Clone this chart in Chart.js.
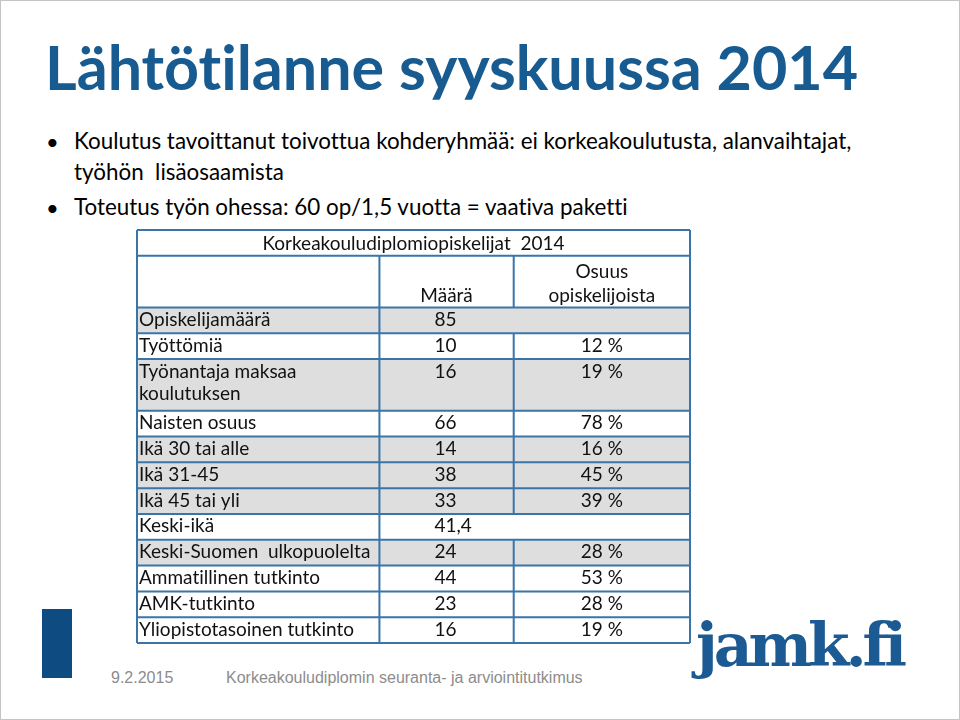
<!DOCTYPE html>
<html><head><meta charset="utf-8">
<script src="https://cdn.jsdelivr.net/npm/chart.js@4"></script>
<style>
html,body{margin:0;padding:0;background:#fff;}
#slide{position:relative;width:958px;height:718px;border:1px solid #c4c4c4;overflow:hidden;font-family:Lato,"Open Sans",sans-serif;background:#fff;font-variant-ligatures:none;}
.t{position:absolute;white-space:pre;line-height:1;font-variant-ligatures:none;}
#tbl{position:absolute;left:130px;top:223px;}
</style></head><body>
<div id="slide">
  <div class="t" id="title" style="left:44px;top:35px;font-size:61px;font-weight:700;color:#175b91;">Lähtötilanne syyskuussa 2014</div>
  <div class="t" style="left:45px;top:130px;font-size:22px;color:#000;">•</div>
  <div class="t" style="left:73px;top:129px;font-size:22.4px;color:#000;">Koulutus tavoittanut toivottua kohderyhmää: ei korkeakoulutusta, alanvaihtajat,</div>
  <div class="t" style="left:73px;top:160px;font-size:22.4px;color:#000;">työhön  lisäosaamista</div>
  <div class="t" style="left:45px;top:196px;font-size:22px;color:#000;">•</div>
  <div class="t" style="left:73px;top:195px;font-size:22.4px;color:#000;">Toteutus työn ohessa: 60 op/1,5 vuotta = vaativa paketti</div>
  <canvas id="tbl" width="565" height="425"></canvas>
  <div style="position:absolute;left:41px;top:608px;width:30px;height:69px;background:#0e4b81;"></div>
  <div class="t" style="left:110px;top:669px;font-size:16px;color:#8c8c8c;font-family:'Liberation Sans',Arial,sans-serif;">9.2.2015</div>
  <div class="t" style="left:225px;top:669px;font-size:16px;color:#8c8c8c;font-family:'Liberation Sans',Arial,sans-serif;">Korkeakouludiplomin seuranta- ja arviointitutkimus</div>
  <div class="t" style="left:695px;top:614px;font-size:60px;font-weight:700;color:#1b5a92;font-family:'DejaVu Serif',serif;letter-spacing:-4px;">jamk.fi</div>
</div>
<script>
// ---- data ----
const tableTitle = "Korkeakouludiplomiopiskelijat  2014";
const columnHeaders = ["", "Määrä", "Osuus\nopiskelijoista"];
const rowLabels = [
  "Opiskelijamäärä",
  "Työttömiä",
  "Työnantaja maksaa\nkoulutuksen",
  "Naisten osuus",
  "Ikä 30 tai alle",
  "Ikä 31-45",
  "Ikä 45 tai yli",
  "Keski-ikä",
  "Keski-Suomen  ulkopuolelta",
  "Ammatillinen tutkinto",
  "AMK-tutkinto",
  "Yliopistotasoinen tutkinto"
];
const counts = ["85", "10", "16", "66", "14", "38", "33", "41,4", "24", "44", "23", "16"];
const sharesPct = [null, 12, 19, 78, 16, 45, 39, null, 28, 53, 28, 19];

// ---- table layout built from data ----
const rows = [];
rows.push({kind: 'title', lines: 1, cells: [{text: tableTitle, c0: 0, c1: 3, align: 'center'}]});
rows.push({kind: 'header', lines: 2, cells: columnHeaders.map((h, i) => ({text: h, c0: i, c1: i + 1, align: 'center'}))});
rowLabels.forEach((lab, i) => {
  const cells = [{text: lab, c0: 0, c1: 1, align: 'left'}];
  if (sharesPct[i] === null) {
    cells.push({text: counts[i], c0: 1, c1: 3, align: 'indent'});
  } else {
    cells.push({text: counts[i], c0: 1, c1: 2, align: 'indent'});
    cells.push({text: sharesPct[i] + ' %', c0: 2, c1: 3, align: 'center'});
  }
  rows.push({kind: 'data', idx: i, lines: lab.split('\n').length, cells});
});
let acc = 0;
rows.forEach(r => { r.y0 = acc; acc += r.lines; r.y1 = acc; });
const totalLines = acc;

const tablePlugin = {
  id: 'slideTable',
  afterDraw(chart, args, o) {
    const {ctx} = chart;
    const xs = chart.scales.x, ys = chart.scales.y;
    const X = c => xs.getPixelForValue(o.colEdges[c]);
    const Y = v => ys.getPixelForValue(v);
    ctx.save();
    // backgrounds
    rows.forEach(r => {
      const shaded = r.kind === 'data' && o.shadedRows.includes(r.idx);
      ctx.fillStyle = shaded ? o.shade : '#ffffff';
      ctx.fillRect(X(0), Y(r.y0), X(3) - X(0), Y(r.y1) - Y(r.y0));
    });
    // text
    ctx.fillStyle = '#111';
    ctx.font = o.font;
    if ('letterSpacing' in ctx) ctx.letterSpacing = '0.01px';
    rows.forEach(r => {
      const top = Y(r.y0), bot = Y(r.y1);
      r.cells.forEach(c => {
        const lines = c.text.split('\n');
        let x, align;
        if (c.align === 'center') { x = (X(c.c0) + X(c.c1)) / 2; align = 'center'; }
        else if (c.align === 'indent') { x = X(c.c0) + o.indent; align = 'left'; }
        else { x = X(c.c0) + o.padLeft; align = 'left'; }
        ctx.textAlign = align;
        ctx.textBaseline = 'alphabetic';
        lines.forEach((ln, k) => {
          let by;
          if (r.kind === 'data') by = top + o.firstBaseline + k * o.lineGap;
          else by = bot - o.bottomPad - (lines.length - 1 - k) * o.headGap;
          ctx.fillText(ln, x, by);
        });
      });
    });
    // borders
    ctx.strokeStyle = o.border;
    ctx.lineWidth = o.borderWidth;
    ctx.beginPath();
    rows.forEach(r => {
      ctx.moveTo(X(0), Y(r.y0)); ctx.lineTo(X(3), Y(r.y0));
      r.cells.forEach(c => {
        if (c.c0 > 0) { ctx.moveTo(X(c.c0), Y(r.y0)); ctx.lineTo(X(c.c0), Y(r.y1)); }
      });
    });
    ctx.moveTo(X(0), Y(totalLines)); ctx.lineTo(X(3), Y(totalLines));
    ctx.moveTo(X(0), Y(0)); ctx.lineTo(X(0), Y(totalLines));
    ctx.moveTo(X(3), Y(0)); ctx.lineTo(X(3), Y(totalLines));
    ctx.stroke();
    ctx.restore();
  }
};

new Chart(document.getElementById('tbl'), {
  type: 'scatter',
  data: {datasets: []},
  options: {
    responsive: false,
    animation: false,
    events: [],
    layout: {padding: 6},
    plugins: {
      legend: {display: false},
      tooltip: {enabled: false},
      slideTable: {
        colEdges: [0, 0.4384, 0.6812, 1],
        shadedRows: [0, 2, 4, 5, 6, 8],
        shade: '#dedede',
        border: '#3a75a8',
        borderWidth: 2,
        font: '19px Lato, "Open Sans", sans-serif',
        padLeft: 2,
        indent: 55,
        firstBaseline: 18.5,
        lineGap: 22,
        bottomPad: 5.5,
        headGap: 24
      }
    },
    scales: {
      x: {type: 'linear', min: 0, max: 1, display: false},
      y: {type: 'linear', min: 0, max: totalLines, reverse: true, display: false}
    }
  },
  plugins: [tablePlugin]
});
</script>
</body></html>
